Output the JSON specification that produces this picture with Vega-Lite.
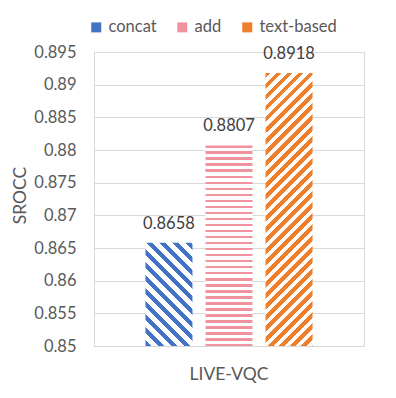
{
 "$schema": "https://vega.github.io/schema/vega-lite/v6.json",
 "width": 270,
 "height": 294,
 "autosize": {"type": "none"},
 "padding": {"left": 94, "top": 52, "right": 32, "bottom": 52},
 "background": "#FFFFFF",
 "config": {
  "font": "Lato",
  "view": {"stroke": "#D9D9D9", "strokeWidth": 1}
 },
 "data": {"values": [
  {"dataset": "LIVE-VQC", "method": "concat", "SROCC": 0.8658},
  {"dataset": "LIVE-VQC", "method": "add", "SROCC": 0.8807},
  {"dataset": "LIVE-VQC", "method": "text-based", "SROCC": 0.8918}
 ]},
 "encoding": {
  "x": {"field": "dataset", "type": "nominal",
   "scale": {"paddingInner": 0, "paddingOuter": 0.308},
   "axis": {"title": null, "labelAngle": 0, "ticks": false, "labelPadding": 33, "labelBaseline": "alphabetic",
    "labelFontSize": 17.5, "labelColor": "#595959", "domainColor": "#D9D9D9", "grid": false}},
  "xOffset": {"field": "method", "type": "nominal",
   "scale": {"domain": ["concat", "add", "text-based"], "paddingInner": 0.217, "paddingOuter": 0}},
  "y": {"field": "SROCC", "type": "quantitative",
   "scale": {"domain": [0.85, 0.895], "nice": false, "zero": false},
   "axis": {"values": [0.85, 0.855, 0.86, 0.865, 0.87, 0.875, 0.88, 0.885, 0.89, 0.895], "format": ".3~f",
    "title": "SROCC", "ticks": false, "labelPadding": 18, "labelFontSize": 16.5, "labelColor": "#595959",
    "domainColor": "#D9D9D9", "gridColor": "#D9D9D9", "titleFontSize": 17.5, "titleColor": "#595959",
    "titleFontWeight": "normal", "titleX": -74, "titleY": 143, "titleAngle": -90, "titleAlign": "center", "titleBaseline": "middle"}}
 },
 "layer": [
  {"mark": {"type": "bar"},
   "encoding": {"y2": {"field": "SROCC"},
    "color": {"field": "method", "type": "nominal",
     "scale": {"domain": ["concat", "add", "text-based"], "range": ["#4472C4", "#F0939E", "#EE7F2D"]},
     "legend": {"orient": "none", "legendX": -6, "legendY": -33, "direction": "horizontal", "title": null,
      "symbolType": "square", "symbolSize": 100, "symbolStrokeWidth": 0, "labelFontSize": 16.5, "labelColor": "#595959",
      "labelOffset": 4, "columnPadding": 17, "padding": 0}}}},
  {"transform": [{"filter": "datum.method === 'concat'"}],
   "encoding": {"y2": {"datum": 0.85}},
   "mark": {"type": "bar", "fill": {"gradient": "linear", "x1": 0, "y1": 1, "x2": 0.5488, "y2": -0.2054, "stops": [
    {"offset": 0, "color": "#4472C4"}, {"offset": 0.039, "color": "#4472C4"}, {"offset": 0.039, "color": "#FFFFFF"}, {"offset": 0.0866, "color": "#FFFFFF"},
    {"offset": 0.0866, "color": "#4472C4"}, {"offset": 0.1256, "color": "#4472C4"}, {"offset": 0.1256, "color": "#FFFFFF"}, {"offset": 0.1732, "color": "#FFFFFF"},
    {"offset": 0.1732, "color": "#4472C4"}, {"offset": 0.2122, "color": "#4472C4"}, {"offset": 0.2122, "color": "#FFFFFF"}, {"offset": 0.2598, "color": "#FFFFFF"},
    {"offset": 0.2598, "color": "#4472C4"}, {"offset": 0.2988, "color": "#4472C4"}, {"offset": 0.2988, "color": "#FFFFFF"}, {"offset": 0.3464, "color": "#FFFFFF"},
    {"offset": 0.3464, "color": "#4472C4"}, {"offset": 0.3854, "color": "#4472C4"}, {"offset": 0.3854, "color": "#FFFFFF"}, {"offset": 0.4330, "color": "#FFFFFF"},
    {"offset": 0.4330, "color": "#4472C4"}, {"offset": 0.4720, "color": "#4472C4"}, {"offset": 0.4720, "color": "#FFFFFF"}, {"offset": 0.5196, "color": "#FFFFFF"},
    {"offset": 0.5196, "color": "#4472C4"}, {"offset": 0.5586, "color": "#4472C4"}, {"offset": 0.5586, "color": "#FFFFFF"}, {"offset": 0.6062, "color": "#FFFFFF"},
    {"offset": 0.6062, "color": "#4472C4"}, {"offset": 0.6452, "color": "#4472C4"}, {"offset": 0.6452, "color": "#FFFFFF"}, {"offset": 0.6928, "color": "#FFFFFF"},
    {"offset": 0.6928, "color": "#4472C4"}, {"offset": 0.7318, "color": "#4472C4"}, {"offset": 0.7318, "color": "#FFFFFF"}, {"offset": 0.7794, "color": "#FFFFFF"},
    {"offset": 0.7794, "color": "#4472C4"}, {"offset": 0.8184, "color": "#4472C4"}, {"offset": 0.8184, "color": "#FFFFFF"}, {"offset": 0.8660, "color": "#FFFFFF"},
    {"offset": 0.8660, "color": "#4472C4"}, {"offset": 0.9050, "color": "#4472C4"}, {"offset": 0.9050, "color": "#FFFFFF"}, {"offset": 0.9526, "color": "#FFFFFF"},
    {"offset": 0.9526, "color": "#4472C4"}, {"offset": 0.9916, "color": "#4472C4"}, {"offset": 0.9916, "color": "#FFFFFF"}, {"offset": 1, "color": "#FFFFFF"}
   ]}}},
  {"transform": [{"filter": "datum.method === 'add'"}],
   "encoding": {"y2": {"datum": 0.85}},
   "mark": {"type": "bar", "fill": {"gradient": "linear", "x1": 0, "y1": 0, "x2": 0, "y2": 1, "stops": [
    {"offset": 0, "color": "#F0939E"}, {"offset": 0.0135, "color": "#F0939E"}, {"offset": 0.0135, "color": "#FFFFFF"}, {"offset": 0.03, "color": "#FFFFFF"},
    {"offset": 0.03, "color": "#F0939E"}, {"offset": 0.0435, "color": "#F0939E"}, {"offset": 0.0435, "color": "#FFFFFF"}, {"offset": 0.06, "color": "#FFFFFF"},
    {"offset": 0.06, "color": "#F0939E"}, {"offset": 0.0735, "color": "#F0939E"}, {"offset": 0.0735, "color": "#FFFFFF"}, {"offset": 0.09, "color": "#FFFFFF"},
    {"offset": 0.09, "color": "#F0939E"}, {"offset": 0.1035, "color": "#F0939E"}, {"offset": 0.1035, "color": "#FFFFFF"}, {"offset": 0.12, "color": "#FFFFFF"},
    {"offset": 0.12, "color": "#F0939E"}, {"offset": 0.1335, "color": "#F0939E"}, {"offset": 0.1335, "color": "#FFFFFF"}, {"offset": 0.15, "color": "#FFFFFF"},
    {"offset": 0.15, "color": "#F0939E"}, {"offset": 0.1635, "color": "#F0939E"}, {"offset": 0.1635, "color": "#FFFFFF"}, {"offset": 0.18, "color": "#FFFFFF"},
    {"offset": 0.18, "color": "#F0939E"}, {"offset": 0.1935, "color": "#F0939E"}, {"offset": 0.1935, "color": "#FFFFFF"}, {"offset": 0.21, "color": "#FFFFFF"},
    {"offset": 0.21, "color": "#F0939E"}, {"offset": 0.2235, "color": "#F0939E"}, {"offset": 0.2235, "color": "#FFFFFF"}, {"offset": 0.24, "color": "#FFFFFF"},
    {"offset": 0.24, "color": "#F0939E"}, {"offset": 0.2535, "color": "#F0939E"}, {"offset": 0.2535, "color": "#FFFFFF"}, {"offset": 0.27, "color": "#FFFFFF"},
    {"offset": 0.27, "color": "#F0939E"}, {"offset": 0.2835, "color": "#F0939E"}, {"offset": 0.2835, "color": "#FFFFFF"}, {"offset": 0.30, "color": "#FFFFFF"},
    {"offset": 0.30, "color": "#F0939E"}, {"offset": 0.3135, "color": "#F0939E"}, {"offset": 0.3135, "color": "#FFFFFF"}, {"offset": 0.33, "color": "#FFFFFF"},
    {"offset": 0.33, "color": "#F0939E"}, {"offset": 0.3435, "color": "#F0939E"}, {"offset": 0.3435, "color": "#FFFFFF"}, {"offset": 0.36, "color": "#FFFFFF"},
    {"offset": 0.36, "color": "#F0939E"}, {"offset": 0.3735, "color": "#F0939E"}, {"offset": 0.3735, "color": "#FFFFFF"}, {"offset": 0.39, "color": "#FFFFFF"},
    {"offset": 0.39, "color": "#F0939E"}, {"offset": 0.4035, "color": "#F0939E"}, {"offset": 0.4035, "color": "#FFFFFF"}, {"offset": 0.42, "color": "#FFFFFF"},
    {"offset": 0.42, "color": "#F0939E"}, {"offset": 0.4335, "color": "#F0939E"}, {"offset": 0.4335, "color": "#FFFFFF"}, {"offset": 0.45, "color": "#FFFFFF"},
    {"offset": 0.45, "color": "#F0939E"}, {"offset": 0.4635, "color": "#F0939E"}, {"offset": 0.4635, "color": "#FFFFFF"}, {"offset": 0.48, "color": "#FFFFFF"},
    {"offset": 0.48, "color": "#F0939E"}, {"offset": 0.4935, "color": "#F0939E"}, {"offset": 0.4935, "color": "#FFFFFF"}, {"offset": 0.51, "color": "#FFFFFF"},
    {"offset": 0.51, "color": "#F0939E"}, {"offset": 0.5235, "color": "#F0939E"}, {"offset": 0.5235, "color": "#FFFFFF"}, {"offset": 0.54, "color": "#FFFFFF"},
    {"offset": 0.54, "color": "#F0939E"}, {"offset": 0.5535, "color": "#F0939E"}, {"offset": 0.5535, "color": "#FFFFFF"}, {"offset": 0.57, "color": "#FFFFFF"},
    {"offset": 0.57, "color": "#F0939E"}, {"offset": 0.5835, "color": "#F0939E"}, {"offset": 0.5835, "color": "#FFFFFF"}, {"offset": 0.60, "color": "#FFFFFF"},
    {"offset": 0.60, "color": "#F0939E"}, {"offset": 0.6135, "color": "#F0939E"}, {"offset": 0.6135, "color": "#FFFFFF"}, {"offset": 0.63, "color": "#FFFFFF"},
    {"offset": 0.63, "color": "#F0939E"}, {"offset": 0.6435, "color": "#F0939E"}, {"offset": 0.6435, "color": "#FFFFFF"}, {"offset": 0.66, "color": "#FFFFFF"},
    {"offset": 0.66, "color": "#F0939E"}, {"offset": 0.6735, "color": "#F0939E"}, {"offset": 0.6735, "color": "#FFFFFF"}, {"offset": 0.69, "color": "#FFFFFF"},
    {"offset": 0.69, "color": "#F0939E"}, {"offset": 0.7035, "color": "#F0939E"}, {"offset": 0.7035, "color": "#FFFFFF"}, {"offset": 0.72, "color": "#FFFFFF"},
    {"offset": 0.72, "color": "#F0939E"}, {"offset": 0.7335, "color": "#F0939E"}, {"offset": 0.7335, "color": "#FFFFFF"}, {"offset": 0.75, "color": "#FFFFFF"},
    {"offset": 0.75, "color": "#F0939E"}, {"offset": 0.7635, "color": "#F0939E"}, {"offset": 0.7635, "color": "#FFFFFF"}, {"offset": 0.78, "color": "#FFFFFF"},
    {"offset": 0.78, "color": "#F0939E"}, {"offset": 0.7935, "color": "#F0939E"}, {"offset": 0.7935, "color": "#FFFFFF"}, {"offset": 0.81, "color": "#FFFFFF"},
    {"offset": 0.81, "color": "#F0939E"}, {"offset": 0.8235, "color": "#F0939E"}, {"offset": 0.8235, "color": "#FFFFFF"}, {"offset": 0.84, "color": "#FFFFFF"},
    {"offset": 0.84, "color": "#F0939E"}, {"offset": 0.8535, "color": "#F0939E"}, {"offset": 0.8535, "color": "#FFFFFF"}, {"offset": 0.87, "color": "#FFFFFF"},
    {"offset": 0.87, "color": "#F0939E"}, {"offset": 0.8835, "color": "#F0939E"}, {"offset": 0.8835, "color": "#FFFFFF"}, {"offset": 0.90, "color": "#FFFFFF"},
    {"offset": 0.90, "color": "#F0939E"}, {"offset": 0.9135, "color": "#F0939E"}, {"offset": 0.9135, "color": "#FFFFFF"}, {"offset": 0.93, "color": "#FFFFFF"},
    {"offset": 0.93, "color": "#F0939E"}, {"offset": 0.9435, "color": "#F0939E"}, {"offset": 0.9435, "color": "#FFFFFF"}, {"offset": 0.96, "color": "#FFFFFF"},
    {"offset": 0.96, "color": "#F0939E"}, {"offset": 0.9735, "color": "#F0939E"}, {"offset": 0.9735, "color": "#FFFFFF"}, {"offset": 0.99, "color": "#FFFFFF"},
    {"offset": 0.99, "color": "#F0939E"}, {"offset": 1, "color": "#F0939E"}
   ]}}},
  {"transform": [{"filter": "datum.method === 'text-based'"}],
   "encoding": {"y2": {"datum": 0.85}},
   "mark": {"type": "bar", "fill": {"gradient": "linear", "x1": 0, "y1": 0, "x2": 0.19592, "y2": 1.13838, "stops": [
    {"offset": 0, "color": "#EE7F2D"}, {"offset": 0.0172, "color": "#EE7F2D"}, {"offset": 0.0172, "color": "#FFFFFF"}, {"offset": 0.0344, "color": "#FFFFFF"},
    {"offset": 0.0344, "color": "#EE7F2D"}, {"offset": 0.0516, "color": "#EE7F2D"}, {"offset": 0.0516, "color": "#FFFFFF"}, {"offset": 0.0688, "color": "#FFFFFF"},
    {"offset": 0.0688, "color": "#EE7F2D"}, {"offset": 0.0860, "color": "#EE7F2D"}, {"offset": 0.0860, "color": "#FFFFFF"}, {"offset": 0.1032, "color": "#FFFFFF"},
    {"offset": 0.1032, "color": "#EE7F2D"}, {"offset": 0.1204, "color": "#EE7F2D"}, {"offset": 0.1204, "color": "#FFFFFF"}, {"offset": 0.1376, "color": "#FFFFFF"},
    {"offset": 0.1376, "color": "#EE7F2D"}, {"offset": 0.1548, "color": "#EE7F2D"}, {"offset": 0.1548, "color": "#FFFFFF"}, {"offset": 0.1720, "color": "#FFFFFF"},
    {"offset": 0.1720, "color": "#EE7F2D"}, {"offset": 0.1892, "color": "#EE7F2D"}, {"offset": 0.1892, "color": "#FFFFFF"}, {"offset": 0.2064, "color": "#FFFFFF"},
    {"offset": 0.2064, "color": "#EE7F2D"}, {"offset": 0.2236, "color": "#EE7F2D"}, {"offset": 0.2236, "color": "#FFFFFF"}, {"offset": 0.2408, "color": "#FFFFFF"},
    {"offset": 0.2408, "color": "#EE7F2D"}, {"offset": 0.2580, "color": "#EE7F2D"}, {"offset": 0.2580, "color": "#FFFFFF"}, {"offset": 0.2752, "color": "#FFFFFF"},
    {"offset": 0.2752, "color": "#EE7F2D"}, {"offset": 0.2924, "color": "#EE7F2D"}, {"offset": 0.2924, "color": "#FFFFFF"}, {"offset": 0.3096, "color": "#FFFFFF"},
    {"offset": 0.3096, "color": "#EE7F2D"}, {"offset": 0.3268, "color": "#EE7F2D"}, {"offset": 0.3268, "color": "#FFFFFF"}, {"offset": 0.3440, "color": "#FFFFFF"},
    {"offset": 0.3440, "color": "#EE7F2D"}, {"offset": 0.3612, "color": "#EE7F2D"}, {"offset": 0.3612, "color": "#FFFFFF"}, {"offset": 0.3784, "color": "#FFFFFF"},
    {"offset": 0.3784, "color": "#EE7F2D"}, {"offset": 0.3956, "color": "#EE7F2D"}, {"offset": 0.3956, "color": "#FFFFFF"}, {"offset": 0.4128, "color": "#FFFFFF"},
    {"offset": 0.4128, "color": "#EE7F2D"}, {"offset": 0.4300, "color": "#EE7F2D"}, {"offset": 0.4300, "color": "#FFFFFF"}, {"offset": 0.4472, "color": "#FFFFFF"},
    {"offset": 0.4472, "color": "#EE7F2D"}, {"offset": 0.4644, "color": "#EE7F2D"}, {"offset": 0.4644, "color": "#FFFFFF"}, {"offset": 0.4816, "color": "#FFFFFF"},
    {"offset": 0.4816, "color": "#EE7F2D"}, {"offset": 0.4988, "color": "#EE7F2D"}, {"offset": 0.4988, "color": "#FFFFFF"}, {"offset": 0.5160, "color": "#FFFFFF"},
    {"offset": 0.5160, "color": "#EE7F2D"}, {"offset": 0.5332, "color": "#EE7F2D"}, {"offset": 0.5332, "color": "#FFFFFF"}, {"offset": 0.5504, "color": "#FFFFFF"},
    {"offset": 0.5504, "color": "#EE7F2D"}, {"offset": 0.5676, "color": "#EE7F2D"}, {"offset": 0.5676, "color": "#FFFFFF"}, {"offset": 0.5848, "color": "#FFFFFF"},
    {"offset": 0.5848, "color": "#EE7F2D"}, {"offset": 0.6020, "color": "#EE7F2D"}, {"offset": 0.6020, "color": "#FFFFFF"}, {"offset": 0.6192, "color": "#FFFFFF"},
    {"offset": 0.6192, "color": "#EE7F2D"}, {"offset": 0.6364, "color": "#EE7F2D"}, {"offset": 0.6364, "color": "#FFFFFF"}, {"offset": 0.6536, "color": "#FFFFFF"},
    {"offset": 0.6536, "color": "#EE7F2D"}, {"offset": 0.6708, "color": "#EE7F2D"}, {"offset": 0.6708, "color": "#FFFFFF"}, {"offset": 0.6880, "color": "#FFFFFF"},
    {"offset": 0.6880, "color": "#EE7F2D"}, {"offset": 0.7052, "color": "#EE7F2D"}, {"offset": 0.7052, "color": "#FFFFFF"}, {"offset": 0.7224, "color": "#FFFFFF"},
    {"offset": 0.7224, "color": "#EE7F2D"}, {"offset": 0.7396, "color": "#EE7F2D"}, {"offset": 0.7396, "color": "#FFFFFF"}, {"offset": 0.7568, "color": "#FFFFFF"},
    {"offset": 0.7568, "color": "#EE7F2D"}, {"offset": 0.7740, "color": "#EE7F2D"}, {"offset": 0.7740, "color": "#FFFFFF"}, {"offset": 0.7912, "color": "#FFFFFF"},
    {"offset": 0.7912, "color": "#EE7F2D"}, {"offset": 0.8084, "color": "#EE7F2D"}, {"offset": 0.8084, "color": "#FFFFFF"}, {"offset": 0.8256, "color": "#FFFFFF"},
    {"offset": 0.8256, "color": "#EE7F2D"}, {"offset": 0.8428, "color": "#EE7F2D"}, {"offset": 0.8428, "color": "#FFFFFF"}, {"offset": 0.8600, "color": "#FFFFFF"},
    {"offset": 0.8600, "color": "#EE7F2D"}, {"offset": 0.8772, "color": "#EE7F2D"}, {"offset": 0.8772, "color": "#FFFFFF"}, {"offset": 0.8944, "color": "#FFFFFF"},
    {"offset": 0.8944, "color": "#EE7F2D"}, {"offset": 0.9116, "color": "#EE7F2D"}, {"offset": 0.9116, "color": "#FFFFFF"}, {"offset": 0.9288, "color": "#FFFFFF"},
    {"offset": 0.9288, "color": "#EE7F2D"}, {"offset": 0.9460, "color": "#EE7F2D"}, {"offset": 0.9460, "color": "#FFFFFF"}, {"offset": 0.9632, "color": "#FFFFFF"},
    {"offset": 0.9632, "color": "#EE7F2D"}, {"offset": 0.9804, "color": "#EE7F2D"}, {"offset": 0.9804, "color": "#FFFFFF"}, {"offset": 0.9976, "color": "#FFFFFF"},
    {"offset": 0.9976, "color": "#EE7F2D"}, {"offset": 1, "color": "#EE7F2D"}
   ]}}},
  {"mark": {"type": "text", "baseline": "alphabetic", "dy": -14, "fontSize": 16.5, "color": "#404040"},
   "encoding": {"text": {"field": "SROCC", "type": "quantitative", "format": ".4f"}}}
 ]
}
